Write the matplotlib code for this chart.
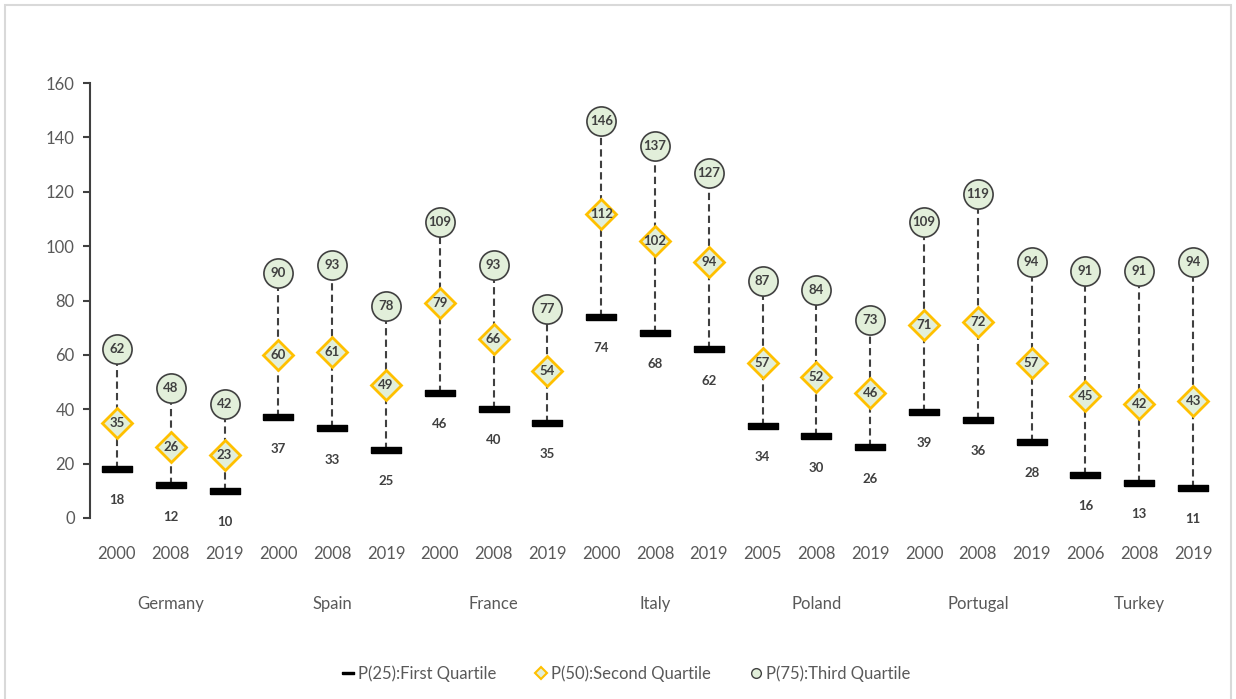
import matplotlib
matplotlib.use("Agg")
import matplotlib.pyplot as plt
from matplotlib.lines import Line2D
from matplotlib.patches import Rectangle

plt.rcParams['font.family'] = ['Lato', 'DejaVu Sans']

# data
countries = ['Germany', 'Spain', 'France', 'Italy', 'Poland', 'Portugal', 'Turkey']
years = ['2000', '2008', '2019', '2000', '2008', '2019', '2000', '2008', '2019',
         '2000', '2008', '2019', '2005', '2008', '2019', '2000', '2008', '2019',
         '2006', '2008', '2019']
p25 = [18, 12, 10, 37, 33, 25, 46, 40, 35, 74, 68, 62, 34, 30, 26, 39, 36, 28, 16, 13, 11]
p50 = [35, 26, 23, 60, 61, 49, 79, 66, 54, 112, 102, 94, 57, 52, 46, 71, 72, 57, 45, 42, 43]
p75 = [62, 48, 42, 90, 93, 78, 109, 93, 77, 146, 137, 127, 87, 84, 73, 109, 119, 94, 91, 91, 94]

dark = '#404040'
grey = '#595959'
green = '#E2EFDA'
gold = '#FFC000'

fig = plt.figure(figsize=(12.36, 6.99), dpi=100)
ax = fig.add_axes([90 / 1236, 1 - 518 / 699, 1130 / 1236, 435 / 699])

x = list(range(len(years)))

# high-low dashed lines
ax.vlines(x, p25, p75, colors=dark, linestyles=(0, (3.5, 2)), linewidth=1.5, zorder=1)

bar = [(-2, -0.45), (2, -0.45), (2, 0.45), (-2, 0.45), (-2, -0.45)]
ax.plot(x, p25, linestyle='none', marker=bar, markersize=22, color='black', zorder=3)
ax.plot(x, p50, linestyle='none', marker='D', markersize=15.5, markerfacecolor=green,
        markeredgecolor=gold, markeredgewidth=2, zorder=3)
ax.plot(x, p75, linestyle='none', marker='o', markersize=21, markerfacecolor=green,
        markeredgecolor=dark, markeredgewidth=1.2, zorder=3)

for i in x:
    ax.text(i, p75[i], str(p75[i]), ha='center', va='center', fontsize=9.5,
            fontweight='bold', color=dark, zorder=4)
    ax.text(i, p50[i], str(p50[i]), ha='center', va='center', fontsize=9.5,
            fontweight='bold', color=dark, zorder=4)
    ax.annotate(str(p25[i]), (i, p25[i]), xytext=(0, -22.5), textcoords='offset points',
                ha='center', va='center', fontsize=9.5, fontweight='bold', color=dark)

ax.set_xlim(-0.5, len(years) - 0.5)
ax.set_ylim(0, 160)
ax.set_yticks(range(0, 161, 20))
ax.tick_params(axis='y', colors=dark, labelcolor=grey, labelsize=12, length=5, width=1.5, pad=6)
ax.set_xticks([])
for s in ['top', 'right', 'bottom']:
    ax.spines[s].set_visible(False)
ax.spines['left'].set_color(dark)
ax.spines['left'].set_linewidth(1.5)

# two-level category labels
tr = ax.get_xaxis_transform()
for i, yr in enumerate(years):
    ax.annotate(yr, (i, 0), xycoords=tr, xytext=(0, -26), textcoords='offset points',
                ha='center', va='center', fontsize=12, color=grey)
for k, c in enumerate(countries):
    ax.annotate(c, (3 * k + 1, 0), xycoords=tr, xytext=(0, -62), textcoords='offset points',
                ha='center', va='center', fontsize=12, color=grey)

handles = [
    Line2D([], [], linestyle='none', marker=bar, markersize=9, color='black'),
    Line2D([], [], linestyle='none', marker='D', markersize=6, markerfacecolor=green,
           markeredgecolor=gold, markeredgewidth=1.5),
    Line2D([], [], linestyle='none', marker='o', markersize=7, markerfacecolor=green,
           markeredgecolor=dark, markeredgewidth=1),
]
labels = ['P(25):First Quartile', 'P(50):Second Quartile', 'P(75):Third Quartile']
leg = fig.legend(handles, labels, loc='center', bbox_to_anchor=(625 / 1236, 1 - 674 / 699),
                 ncol=3, frameon=False, fontsize=12, handletextpad=0.1, columnspacing=2.2,
                 handlelength=1.0)
for t in leg.get_texts():
    t.set_color(grey)

# chart area border
fig.patches.append(Rectangle((5 / 1236, -0.01), 1226 / 1236, 1 - 5 / 699 + 0.01,
                             transform=fig.transFigure, fill=False,
                             edgecolor='#D9D9D9', linewidth=1.5))

fig.savefig('out.png', dpi=100)
